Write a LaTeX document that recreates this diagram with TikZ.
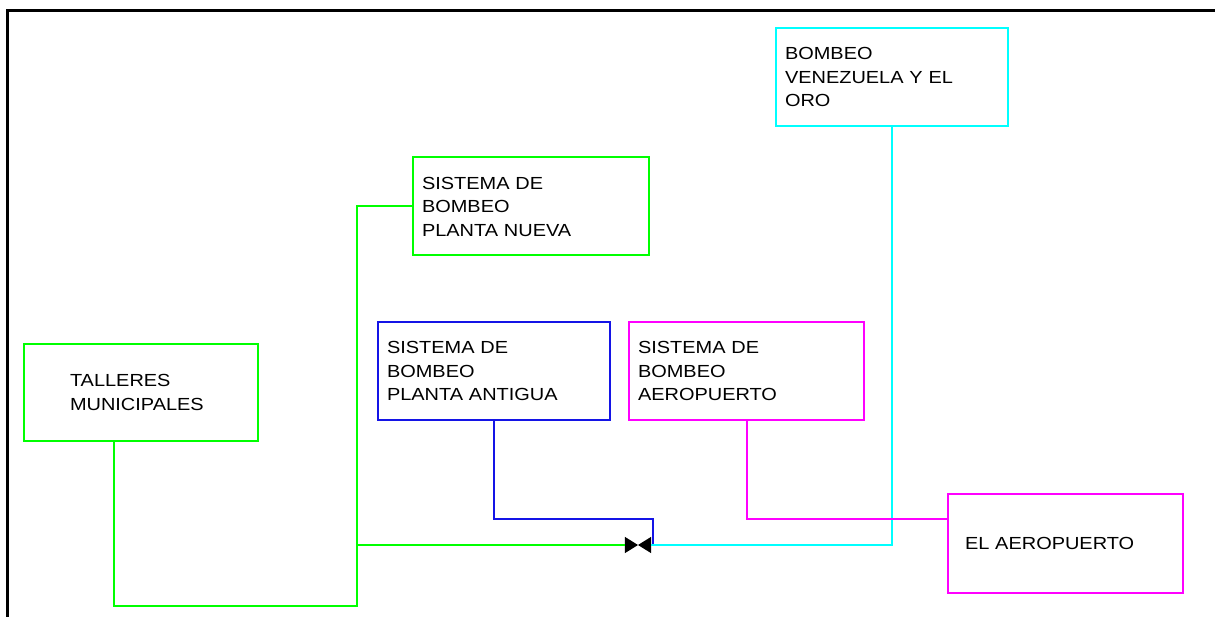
\documentclass[tikz,border=0pt]{standalone}
\usepackage{fontspec}
\setmainfont{Liberation Sans}[FakeStretch=1.14]
\definecolor{cgreen}{RGB}{0,255,0}
\definecolor{ccyan}{RGB}{0,255,255}
\definecolor{cblue}{RGB}{20,20,230}
\definecolor{cmag}{RGB}{255,0,255}
\tikzset{
  box/.style={draw, line width=2pt, align=left, minimum height=98pt,
    font=\fontsize{17.5}{23.5}\selectfont, inner ysep=0pt},
  pipe/.style={line width=2pt},
}
\begin{document}
\begin{tikzpicture}[x=1pt,y=-1pt]
\useasboundingbox (0,0) rectangle (1215,617);
\draw[line width=3pt] (7,617) -- (7,11) -- (1216,11);
% boxes
\node[box, draw=ccyan, inner xsep=9pt, text width=214pt] (ven) at (892,77) {BOMBEO\\VENEZUELA Y EL\\ORO};
\node[box, draw=cgreen, inner xsep=9pt, text width=218pt] (pn) at (531,206.5) {SISTEMA DE\\BOMBEO\\PLANTA NUEVA};
\node[box, draw=cblue, inner xsep=9pt, text width=214pt] (pa) at (494,371) {SISTEMA DE\\BOMBEO\\PLANTA ANTIGUA};
\node[box, draw=cmag, inner xsep=9pt, text width=217pt] (ae) at (746.5,371) {SISTEMA DE\\BOMBEO\\AEROPUERTO};
\node[box, draw=cgreen, inner xsep=46pt, text width=142pt, minimum height=97pt] (tal) at (141,392.5) {TALLERES\\MUNICIPALES};
\node[box, draw=cmag, inner xsep=17pt, text width=201pt, minimum height=99pt, text depth=-2pt] (eap) at (1065.5,543.5) {EL AEROPUERTO};
% valve
\node[minimum width=26pt, minimum height=16pt, inner sep=0pt] (valve) at (638,545) {};
\fill (valve.north west) -- (valve.center) -- (valve.north east) -- (valve.south east) -- (valve.center) -- (valve.south west) -- cycle;
% junction
\coordinate (jn) at (357,545);
% pipes
\draw[pipe, cgreen] ([xshift=-27pt]tal.south) |- (357,606) |- (pn.west);
\draw[pipe, cgreen] (jn) -- (valve.west);
\draw[pipe, cblue] (pa.south) |- ([xshift=2pt,yshift=26pt]valve.east) -- ([xshift=2pt]valve.east);
\draw[pipe, ccyan] (valve.east) -| (ven.south);
\draw[pipe, cmag] (ae.south) |- ([yshift=24.5pt]eap.west);
\end{tikzpicture}
\end{document}
